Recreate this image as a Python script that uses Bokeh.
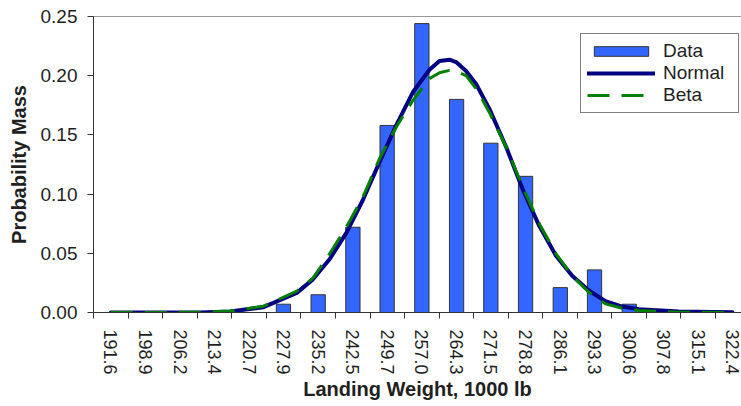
from bokeh.plotting import figure
from bokeh.models import (Range1d, FixedTicker, NumeralTickFormatter, LinearAxis,
                          Legend, LegendItem, ColumnDataSource)
from bokeh.embed import file_html
from bokeh.resources import INLINE

# Landing-weight bins (1000 lb) and observed probability mass per bin
weight_labels = ["191.6", "198.9", "206.2", "213.4", "220.7", "227.9", "235.2",
                 "242.5", "249.7", "257.0", "264.3", "271.5", "278.8", "286.1",
                 "293.3", "300.6", "307.8", "315.1", "322.4"]
observed_mass = [0.0, 0.0, 0.0, 0.0, 0.0, 0.007, 0.015, 0.072, 0.158, 0.244,
                 0.180, 0.143, 0.115, 0.021, 0.036, 0.007, 0.0, 0.0, 0.0]

# Fitted curves, sampled along the weight axis
curve_weight = [191.6, 199.9, 210.4, 216.7, 223.7, 230.7, 234.1, 237.6, 241.1,
                244.6, 248.1, 251.6, 255.1, 258.6, 260.7, 262.8, 264.2, 266.3,
                268.4, 271.2, 274.7, 278.2, 281.7, 285.2, 288.6, 292.1, 295.6,
                299.1, 302.6, 311.0, 322.3]
normal_mass = [0.0000, 0.0000, 0.0001, 0.0009, 0.0045, 0.0166, 0.0280, 0.0450,
               0.0670, 0.0950, 0.1270, 0.1580, 0.1860, 0.2050, 0.2125, 0.2135,
               0.2115, 0.2040, 0.1930, 0.1720, 0.1400, 0.1040, 0.0730, 0.0480,
               0.0310, 0.0186, 0.0095, 0.0050, 0.0028, 0.0008, 0.0002]
beta_mass = [0.0000, 0.0000, 0.0002, 0.0012, 0.0053, 0.0180, 0.0290, 0.0496,
             0.0720, 0.0975, 0.1300, 0.1565, 0.1790, 0.1975, 0.2025, 0.2045,
             0.2040, 0.2000, 0.1890, 0.1690, 0.1400, 0.1060, 0.0750, 0.0496,
             0.0310, 0.0171, 0.0073, 0.0036, 0.0017, 0.0003, 0.0000]

y_ticks = [0.0, 0.05, 0.10, 0.15, 0.20, 0.25]

FONT = "Liberation Sans"
TEXT = "#1f1f1f"
AXIS = "#333333"

centers = [float(s) for s in weight_labels]
step = (centers[-1] - centers[0]) / (len(centers) - 1)
edges = [centers[0] - step / 2] + [(a + b) / 2 for a, b in zip(centers[:-1], centers[1:])] \
        + [centers[-1] + step / 2]

p = figure(frame_width=648, frame_height=296, output_backend="svg",
           toolbar_location=None,
           x_range=Range1d(centers[0] - step / 2, 324.2), y_range=Range1d(0, 0.25),
           min_border_left=93, min_border_right=0, min_border_top=16,
           min_border_bottom=94)
p.outline_line_color = None
p.background_fill_color = "white"
p.border_fill_color = "white"
p.xgrid.visible = False
p.ygrid.visible = False

# bars for the observed distribution (empty bins are skipped)
bars_src = ColumnDataSource(dict(
    x=[c for c, m in zip(centers, observed_mass) if m > 0],
    top=[m for m in observed_mass if m > 0]))
bars = p.vbar(x="x", top="top", width=3.0, source=bars_src,
              fill_color="#3366FF", line_color="#333333", line_width=1)

normal = p.line(curve_weight, normal_mass, line_color="#000080", line_width=4,
                line_join="round", line_cap="round")
beta = p.line(curve_weight, beta_mass, line_color="#008000", line_width=3,
              line_dash="22 12")

# x axis: labels at bin centres, tick marks at bin edges
xa = p.xaxis[0]
xa.ticker = FixedTicker(ticks=centers, minor_ticks=edges)
xa.formatter = NumeralTickFormatter(format="0.0")
xa.major_label_orientation = "vertical"
xa.major_tick_line_color = None
xa.major_tick_out = 6
xa.major_tick_in = 0
xa.minor_tick_line_color = AXIS
xa.minor_tick_out = 6
xa.minor_tick_in = 0
xa.major_label_standoff = 11
xa.axis_line_color = AXIS
xa.axis_label = "Landing Weight, 1000 lb"

ya = p.yaxis[0]
ya.ticker = FixedTicker(ticks=y_ticks)
ya.formatter = NumeralTickFormatter(format="0.00")
ya.major_tick_out = 6
ya.major_tick_in = 0
ya.major_tick_line_color = AXIS
ya.minor_tick_line_color = None
ya.major_label_standoff = 10
ya.axis_line_color = AXIS
ya.axis_label = "Probability Mass"
ya.axis_label_standoff = 8

for ax in (xa, ya):
    ax.major_label_text_font = FONT
    ax.major_label_text_font_size = "19px"
    ax.major_label_text_color = TEXT
    ax.axis_label_text_font = FONT
    ax.axis_label_text_font_size = "20px"
    ax.axis_label_text_font_style = "bold"
    ax.axis_label_text_color = TEXT
xa.major_label_text_font_size = "18px"
xa.axis_label_standoff = 0

# thin grey line closing the top of the plot area
top = LinearAxis(ticker=FixedTicker(ticks=[]), axis_line_color="#999999",
                 major_tick_line_color=None, minor_tick_line_color=None,
                 major_label_text_font_size="0px")
p.add_layout(top, "above")

legend = Legend(items=[LegendItem(label="Data", renderers=[bars]),
                       LegendItem(label="Normal", renderers=[normal]),
                       LegendItem(label="Beta", renderers=[beta])],
                location=(487, 199), orientation="vertical",
                padding=6, spacing=0, margin=0,
                glyph_width=68, glyph_height=12, label_standoff=8,
                label_width=69, label_height=22,
                label_text_font=FONT, label_text_font_size="19px",
                label_text_color=TEXT,
                border_line_color="#000000", border_line_width=1,
                background_fill_color="white", background_fill_alpha=1.0)
p.add_layout(legend)

open("out.html", "w").write(file_html(p, INLINE))
